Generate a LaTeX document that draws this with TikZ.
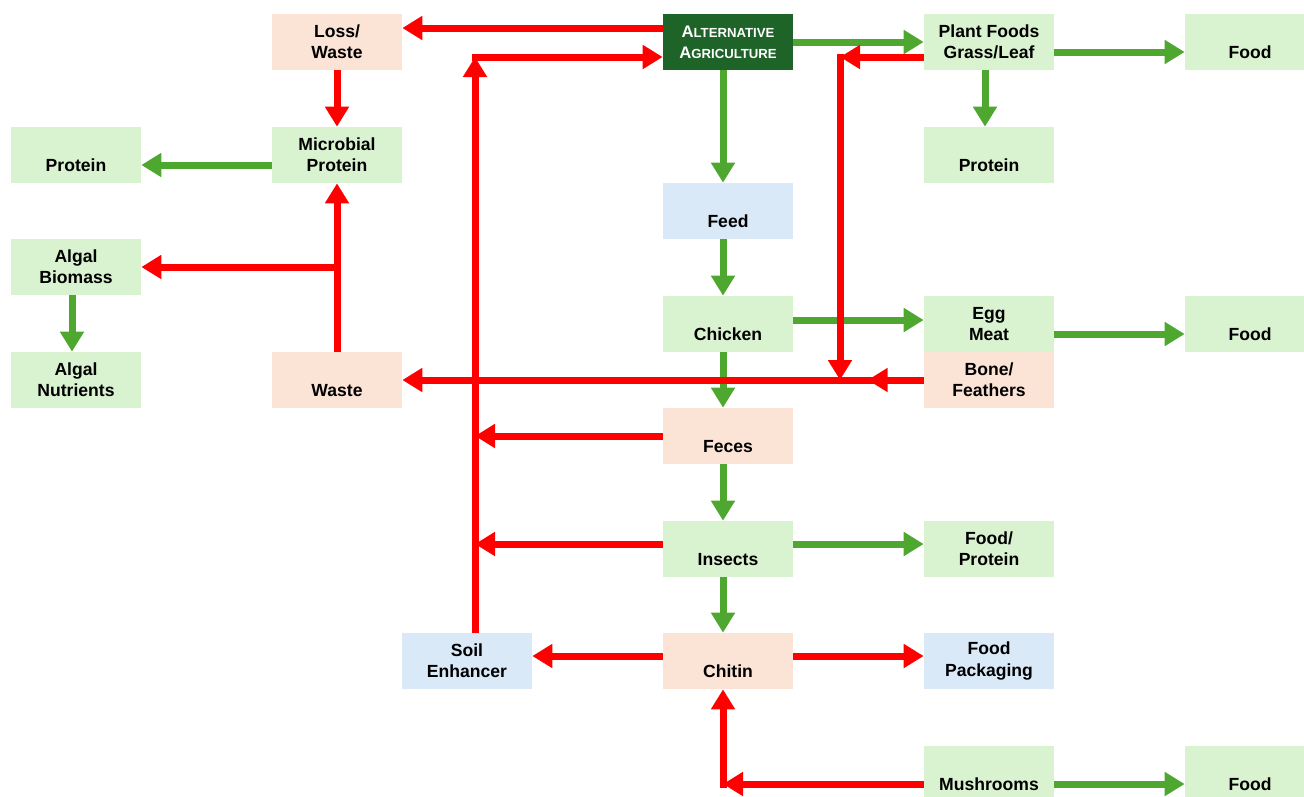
\documentclass[tikz,border=0pt]{standalone}
\usepackage{fontspec}
\setmainfont{Liberation Sans}
\usetikzlibrary{arrows.meta, calc}
\definecolor{altgreen}{RGB}{30, 100, 40}
\definecolor{boxgreen}{RGB}{217, 242, 208}
\definecolor{boxpink}{RGB}{251, 227, 214}
\definecolor{boxblue}{RGB}{218, 233, 248}
\definecolor{flowgreen}{RGB}{78, 167, 46}
\definecolor{flowred}{RGB}{255, 0, 0}
\newcommand{\botline}[1]{\vphantom{A}\\#1}
\newcommand{\fakesc}[2]{{\fontsize{9.5}{12}\selectfont #1}{\fontsize{7.5}{12}\selectfont #2}}

\begin{document}
\begin{tikzpicture}[
        x=0.02cm, y=-0.02cm,
        box/.style={minimum width=2.6cm, minimum height=1.12cm, inner sep=0pt, align=center, font=\fontsize{10}{12}\selectfont\bfseries},
        greenbox/.style={box, fill=boxgreen},
        pinkbox/.style={box, fill=boxpink},
        bluebox/.style={box, fill=boxblue},
        greenflow/.style={-{Triangle[length=0.4cm, width=0.46cm]}, line width=0.14cm, flowgreen},
        redflow/.style={-{Triangle[length=0.4cm, width=0.46cm]}, line width=0.14cm, flowred},
        redline/.style={line width=0.14cm, flowred}
    ]
        \useasboundingbox (0, 0) rectangle (1304, 796);
        \clip (0, 0) rectangle (1304, 796);

        % Source
        \node[box, fill=altgreen, text=white] (alt) at (728, 42) {\fakesc{A}{LTERNATIVE}\\\fakesc{A}{GRICULTURE}};

        % Left side
        \node[pinkbox] (loss) at (337, 42) {Loss/\\Waste};
        \node[greenbox] (microbial) at (337, 155) {Microbial\\Protein};
        \node[greenbox] (protleft) at (76, 155) {\botline{Protein}};
        \node[greenbox] (algbio) at (76, 267) {Algal\\Biomass};
        \node[greenbox] (algnut) at (76, 380) {Algal\\Nutrients};
        \node[pinkbox] (waste) at (337, 380) {\botline{Waste}};
        \node[bluebox] (soil) at (467, 661) {Soil\\Enhancer};

        % Middle column
        \node[bluebox] (feed) at (728, 211) {\botline{Feed}};
        \node[greenbox] (chicken) at (728, 324) {\botline{Chicken}};
        \node[pinkbox] (feces) at (728, 436) {\botline{Feces}};
        \node[greenbox] (insects) at (728, 549) {\botline{Insects}};
        \node[pinkbox] (chitin) at (728, 661) {\botline{Chitin}};

        % Right side
        \node[greenbox] (plant) at (989, 42) {Plant Foods\\Grass/Leaf};
        \node[greenbox] (protright) at (989, 155) {\botline{Protein}};
        \node[greenbox] (egg) at (989, 324) {Egg\\Meat};
        \node[pinkbox] (bone) at (989, 380) {Bone/\\Feathers};
        \node[greenbox] (foodprot) at (989, 549) {Food/\\Protein};
        \node[bluebox] (pack) at (989, 661) {Food\\Packaging};
        \node[greenbox] (mush) at (989, 774) {\botline{Mushrooms}};

        % Food
        \node[greenbox] (foodtop) at (1250, 42) {\botline{Food}};
        \node[greenbox] (foodmid) at (1250, 324) {\botline{Food}};
        \node[greenbox] (foodbot) at (1250, 774) {\botline{Food}};

        % Corners
        \coordinate (soilup) at (475, 57);
        \coordinate (plantdown) at (840, 57);
        \coordinate (bonejoin) at (840, 380);
        \coordinate (branch) at (337, 267);
        \coordinate (fecesjoin) at (475, 436);
        \coordinate (insectsjoin) at (475, 544);
        \coordinate (mushturn) at (723, 784);

        % Green arrows
        \draw[greenflow] (alt.east) -- (plant.west);
        \draw[greenflow] ($(alt.south)+(-5,0)$) -- ($(feed.north)+(-5,0)$);
        \draw[greenflow] ($(plant.east)+(0,10)$) -- ($(foodtop.west)+(0,10)$);
        \draw[greenflow] ($(plant.south)+(-4,0)$) -- ($(protright.north)+(-4,0)$);
        \draw[greenflow] ($(microbial.west)+(0,10)$) -- ($(protleft.east)+(0,10)$);
        \draw[greenflow] ($(algbio.south)+(-4,0)$) -- ($(algnut.north)+(-4,0)$);
        \draw[greenflow] ($(feed.south)+(-5,0)$) -- ($(chicken.north)+(-5,0)$);
        \draw[greenflow] ($(chicken.east)+(0,-4)$) -- ($(egg.west)+(0,-4)$);
        \draw[greenflow] ($(egg.east)+(0,10)$) -- ($(foodmid.west)+(0,10)$);
        \draw[greenflow] ($(chicken.south)+(-5,0)$) -- ($(feces.north)+(-5,0)$);
        \draw[greenflow] ($(feces.south)+(-5,0)$) -- ($(insects.north)+(-5,0)$);
        \draw[greenflow] ($(insects.east)+(0,-5)$) -- ($(foodprot.west)+(0,-5)$);
        \draw[greenflow] ($(insects.south)+(-5,0)$) -- ($(chitin.north)+(-5,0)$);
        \draw[greenflow] ($(mush.east)+(0,10)$) -- ($(foodbot.west)+(0,10)$);

        % Red arrows
        \draw[redflow] ($(alt.west)+(0,-14)$) -- ($(loss.east)+(0,-14)$);
        \draw[redflow] (loss.south) -- (microbial.north);
        \draw[redflow] (waste.north) -- (microbial.south);
        \draw[redflow] (branch) -- (algbio.east);
        \draw[redflow] (soil.north -| soilup) -- (soilup);
        \draw[redflow] ([xshift=-0.07cm]soilup) -- (alt.west |- soilup);
        \draw[redflow] (plant.west |- plantdown) -- (plantdown);
        \draw[redflow] ([yshift=0.07cm]plantdown) -- (bonejoin);
        \draw[redflow] (bone.west) -- ++(-56, 0);
        \draw[redflow] (bone.west) -- (waste.east);
        \draw[redflow] (feces.west) -- (fecesjoin);
        \draw[redflow] ($(insects.west)+(0,-5)$) -- (insectsjoin);
        \draw[redflow] ($(chitin.west)+(0,-5)$) -- ($(soil.east)+(0,-5)$);
        \draw[redflow] ($(chitin.east)+(0,-5)$) -- ($(pack.west)+(0,-5)$);
        \draw[redflow] (mush.west |- mushturn) -- (mushturn);
        \draw[redflow] ([yshift=-0.07cm]mushturn) -- (chitin.south -| mushturn);
    \end{tikzpicture}
\end{document}
